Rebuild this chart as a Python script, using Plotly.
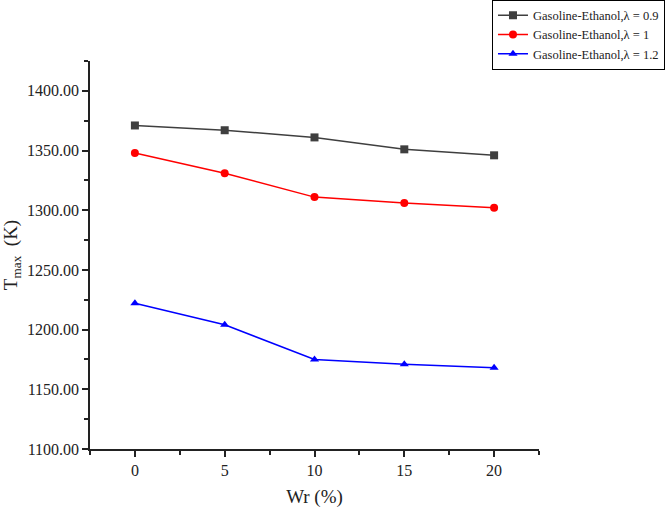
import plotly.graph_objects as go

wr = [0, 5, 10, 15, 20]
t_lambda_09 = [1371, 1367, 1361, 1351, 1346]
t_lambda_10 = [1348, 1331, 1311, 1306, 1302]
t_lambda_12 = [1222, 1204, 1175, 1171, 1168]
names = ["Gasoline-Ethanol,λ = 0.9", "Gasoline-Ethanol,λ = 1", "Gasoline-Ethanol,λ = 1.2"]
colors = ["#3f3f3f", "#ff0000", "#0000ff"]
symbols = ["square", "circle", "triangle-up"]

fig = go.Figure()
for ys, n, c, s in zip([t_lambda_09, t_lambda_10, t_lambda_12], names, colors, symbols):
    fig.add_trace(go.Scatter(x=wr, y=ys, mode="lines+markers", name=n,
                             line=dict(color=c, width=1.5),
                             marker=dict(symbol=s, size=8, color=c)))

font = "Liberation Serif"
fig.update_layout(
    width=666, height=510,
    margin=dict(l=90, r=127, t=61, b=61, autoexpand=False),
    plot_bgcolor="white", paper_bgcolor="white",
    font=dict(family=font, size=16, color="#222"),
    showlegend=True,
    legend=dict(x=1.2806, y=1.158,
                xanchor="right", yanchor="top",
                bordercolor="black", borderwidth=1, bgcolor="white",
                font=dict(family=font, size=12.5, color="#222"),
                tracegroupgap=0, itemwidth=30),
    xaxis=dict(range=[-2.5, 22.5], tickvals=wr, showline=True, linecolor="#222", linewidth=1.5,
               ticks="outside", ticklen=6, tickwidth=1.5, tickcolor="#222",
               minor=dict(ticks="outside", ticklen=4, dtick=2.5, tick0=0, tickcolor="#222", tickwidth=1.5),
               showgrid=False, zeroline=False, mirror=False,
               title=dict(text="Wr (%)", font=dict(size=19, family=font), standoff=12)),
    yaxis=dict(range=[1100, 1425], dtick=50, tick0=1100, tickformat=".2f",
               showline=True, linecolor="#222", linewidth=1.5,
               ticks="outside", ticklen=6, tickwidth=1.5, tickcolor="#222",
               minor=dict(ticks="outside", ticklen=4, dtick=25, tick0=1100, tickcolor="#222", tickwidth=1.5),
               showgrid=False, zeroline=False,
               title=dict(text="T<sub>max</sub>  (K)", font=dict(size=19, family=font), standoff=8)),
)
fig.write_html("out.html", config={"displayModeBar": False},
               post_script="document.body.style.margin='0px';document.body.style.padding='0px';")
